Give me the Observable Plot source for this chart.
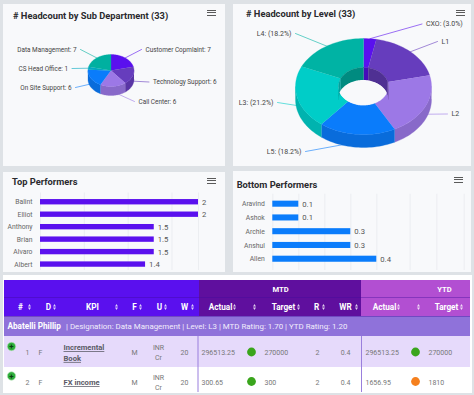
<!DOCTYPE html>
<html><head><meta charset="utf-8">
<script src="https://cdn.jsdelivr.net/npm/d3@7"></script>
<script src="https://cdn.jsdelivr.net/npm/@observablehq/plot@0.6"></script>
<style>
html,body{margin:0;padding:0;background:#dee2e6;width:474px;height:395px;overflow:hidden;font-family:Roboto,sans-serif}
.panel{position:absolute;background:#f8f9fb;overflow:hidden}
.panel svg{position:absolute;left:0;top:0;background:transparent}
.title{position:absolute;font:700 9.3px Roboto,sans-serif;color:#2a2a2e;white-space:nowrap;z-index:2}
.burger{position:absolute;width:9px;height:4px;border-top:1.5px solid #5a5a5a;border-bottom:1.5px solid #5a5a5a;z-index:2}
.burger:after{content:"";position:absolute;left:0;right:0;top:1.2px;border-top:1.5px solid #5a5a5a}
</style></head><body>
<script>
// ---------- data ----------
const subDeptNames = ["Customer Copmlaint","Technology Support","Call Center","On Site Support","CS Head Office","Data Management"];
const subDeptValues = [7,6,6,6,1,7];
const subDeptColors = ["#5a10ee","#663dbd","#9c78e6","#0a7cfb","#00a8c0","#00b0a0"];
const levelNames = ["CXO","L1","L2","L5","L3","L4"];
const levelValues = [1,6,7,6,7,6];
const levelLabels = ["CXO: (3.0%)","L1","L2","L5: (18.2%)","L3: (21.2%)","L4: (18.2%)"];
const levelColors = ["#5a10ee","#663dbd","#9c78e6","#0a7cfb","#00cdc8","#00b3a4"];
const topNames = ["Balint","Elliot","Anthony","Brian","Alvaro","Albert"];
const topValues = [2,2,1.44,1.44,1.44,1.33];
const topLabels = ["2","2","1.5","1.5","1.5","1.4"];
const bottomNames = ["Aravind","Ashok","Archie","Anshul","Allen"];
const bottomValues = [0.1,0.1,0.3,0.3,0.4];
const rowNums = ["1","2"];
const rowD = ["F","F"];
const rowKpi = ["Incremental\nBook","FX income"];
const rowF = ["M","M"];
const rowU = ["INR\nCr","INR\nCr"];
const rowW = ["20","20"];
const rowMtdActual = ["296513.25","300.65"];
const rowMtdStatus = ["#3aa51c","#3aa51c"];
const rowMtdTarget = ["270000","300"];
const rowR = ["2","2"];
const rowWR = ["0.4","0.4"];
const rowYtdActual = ["296513.25","1656.95"];
const rowYtdStatus = ["#3aa51c","#f5801e"];
const rowYtdTarget = ["270000","1810"];
const headerLabels = ["#","D","KPI","F","U","W","Actual","Target","R","WR","Actual","Target"];

// ---------- helpers ----------
const TAU = Math.PI*2;
function addTitle(p,text,left,top,bl,bt){
  const t=document.createElement("div");t.className="title";t.textContent=text;t.style.left=left+"px";t.style.top=top+"px";p.appendChild(t);
  const b=document.createElement("div");b.className="burger";b.style.left=bl+"px";b.style.top=bt+"px";p.appendChild(b);
}
function panel(x,y,w,h){
  const p=document.createElement("div");p.className="panel";
  p.style.cssText=`left:${x}px;top:${y}px;width:${w}px;height:${h}px`;
  document.body.appendChild(p);
  return p;
}
function pageFrame(x,y,w,h,marks){
  return Plot.plot({width:w,height:h,margin:0,x:{domain:[x,x+w],range:[0,w],axis:null},y:{domain:[y,y+h],range:[0,h],axis:null},color:{type:"identity"},style:{background:"transparent",overflow:"visible"},marks});
}
function arc(cx,cy,rx,ry,a0,a1){
  const n=Math.max(2,Math.ceil((a1-a0)/0.04));
  return d3.range(n+1).map(i=>{const a=a0+(a1-a0)*i/n;return [cx+rx*Math.sin(a),cy-ry*Math.cos(a)];});
}
function pieMarks(values,colors,g){
  const sum=d3.sum(values);let acc=0;
  const slices=values.map((v,i)=>{const a0=acc/sum*TAU;acc+=v;return {i,a0,a1:acc/sum*TAU,c:colors[i]};});
  const poly=[];
  const add=(key,c,pts)=>pts.forEach(p=>poly.push({key,c,x:p[0],y:p[1]}));
  slices.forEach(s=>{ // outer wall, front half only
    const a=Math.max(s.a0,Math.PI/2),b=Math.min(s.a1,Math.PI*1.5);
    if(b>a) add("w"+s.i,d3.color(s.c).darker(0.38).formatHex(),[...arc(g.cx,g.cy,g.rx,g.ry,a,b),...arc(g.cx,g.cy+g.depth,g.rx,g.ry,a,b).reverse()]);
  });
  slices.forEach(s=>{ // top faces
    const inner=g.irx?arc(g.cx,g.cy,g.irx,g.iry,s.a0,s.a1).reverse():[[g.cx,g.cy]];
    add("t"+s.i,s.c,[...arc(g.cx,g.cy,g.rx,g.ry,s.a0,s.a1),...inner]);
  });
  if(g.irx) slices.forEach(s=>{ // inner wall, back half only
    const segs=[[Math.max(s.a0,Math.PI*1.5),s.a1],[s.a0,Math.min(s.a1,Math.PI/2)]];
    segs.forEach(([a,b],k)=>{ if(b>a) add("i"+s.i+k,d3.color(s.c).darker(0.7).formatHex(),[...arc(g.cx,g.cy,g.irx,g.iry,a,b),...arc(g.cx,g.cy+g.depth,g.irx,g.iry,a,b).reverse()]);});
  });
  const marks=[Plot.line(poly,{x:"x",y:"y",z:"key",fill:"c",stroke:"c",strokeWidth:0.3})];
  if(g.irx){
    const xm=g.irx*Math.sqrt(1-Math.pow(g.depth/2/g.iry,2));
    const lens=d3.range(61).map(i=>{const dx=-xm+2*xm*i/60,s=g.iry*Math.sqrt(Math.max(0,1-dx*dx/g.irx/g.irx));return {x:g.cx+dx,y1:g.cy+g.depth-s,y2:g.cy+s};});
    marks.push(Plot.areaY(lens,{x:"x",y1:"y1",y2:"y2",fill:g.holeFill}));
  }
  return {marks,slices};
}
// label connector: starts on the rim at the slice's mid angle, runs to the label
function leaderMarks(slices,g,labels,colors,place,fs){
  const lines=[],texts=[];
  slices.forEach((s,i)=>{
    const m=(s.a0+s.a1)/2,front=Math.cos(m)<0?g.depth*0.6:0;
    const [lx,ly,anchor]=place[i];
    const x0=g.cx+g.rx*Math.sin(m),y0=g.cy-g.ry*Math.cos(m)+front;
    const gap=anchor==="start"?-4:4;
    [[x0,y0],[lx+gap,ly]].forEach(p=>lines.push({k:i,x:p[0],y:p[1],c:colors[i]}));
    texts.push({x:lx,y:ly,t:labels[i],a:anchor});
  });
  return [
    Plot.line(lines,{x:"x",y:"y",z:"k",stroke:"c",strokeWidth:0.8,strokeOpacity:0.75}),
    ...["start","end"].map(a=>Plot.text(texts.filter(d=>d.a===a),{x:"x",y:"y",text:"t",textAnchor:a,fontSize:fs,fill:"#444",fontFamily:"Roboto"}))
  ];
}

// ---------- panel 1 : sub department pie ----------
{
  const [x,y,w,h]=[3,4,222,162];
  const p=panel(x,y,w,h);
  addTitle(p,"# Headcount by Sub Department (33)",10,6,204,6);
  const g={cx:110.5,cy:70,rx:23,ry:16,depth:9};
  const {marks,slices}=pieMarks(subDeptValues,subDeptColors,g);
  const labels=subDeptNames.map((n,i)=>n+": "+subDeptValues[i]);
  const place=[[145,49,"start"],[152.5,81.5,"start"],[138,101,"start"],[71,87,"end"],[67.5,68,"end"],[76,49,"end"]];
  p.appendChild(pageFrame(x,y,w,h,[...leaderMarks(slices,g,labels,subDeptColors,place,6.4),...marks]));
}
// ---------- panel 2 : level donut ----------
{
  const [x,y,w,h]=[233,4,238,162];
  const p=panel(x,y,w,h);
  addTitle(p,"# Headcount by Level (33)",13,3.5,223,5.5);
  const g={cx:363,cy:86,rx:68,ry:48,depth:13,irx:25,iry:19,holeFill:"#f8f9fb"};
  const {marks,slices}=pieMarks(levelValues,levelColors,g);
  const place=[[425.5,23.5,"start"],[441,41,"start"],[451,113.5,"start"],[301,151,"end"],[273,102,"end"],[291,33,"end"]];
  p.appendChild(pageFrame(x,y,w,h,[...leaderMarks(slices,g,levelLabels,levelColors,place,7),...marks]));
}
// ---------- bars ----------
function barChart(x,y,w,h,names,values,labels,color,x0,x1,xmax,yTop,yBot,pad,ticks){
  const p=panel(x,y,w,h);
  const plot=Plot.plot({width:w,height:h,margin:0,
    x:{domain:[0,xmax],range:[x0-x,x1-x],axis:null},
    y:{domain:names,range:[yTop-y,yBot-y],paddingInner:pad,paddingOuter:pad/2,round:false,axis:null},
    style:{background:"transparent"},
    marks:[
      Plot.ruleX(ticks,{x:d=>d,insetTop:yTop-y-3,insetBottom:2,stroke:"#e9ebef",strokeWidth:0.8}),
      Plot.barX(names.map((n,i)=>({n,v:values[i]})),{x:"v",y:"n",fill:color}),
      Plot.text(names.map((n,i)=>({n,v:values[i],l:labels[i]})),{x:"v",y:"n",text:"l",dx:3.5,textAnchor:"start",fontSize:7.7,fill:"#555",fontFamily:"Roboto"}),
      Plot.text(names,{x:()=>0,y:d=>d,text:d=>d,dx:-8,textAnchor:"end",fontSize:6.8,fill:"#666",fontFamily:"Roboto"})
    ]});
  p.appendChild(plot);
  return p;
}
{
  const p=barChart(3,172,222,100,topNames,topValues,topLabels,"#5a10ee",40,198,2,195.5,270.3,0.57,[0,0.555,1.11,1.665,2]);
  addTitle(p,"Top Performers",9,4,204,5.5);
}
{
  const p=barChart(233,171,238,101,bottomNames,bottomValues,bottomValues.map(String),"#0a7cfb",272.3,376.3,0.4,196.8,265.6,0.56,[0,0.1,0.2,0.3,0.4,0.528,0.631,0.736]);
  addTitle(p,"Bottom Performers",3.7,7.5,221,6);
}
// ---------- table ----------
{
  const [x,y,w,h]=[3,275,469,118];
  const p=panel(x,y,w,h);p.style.background="#fff";
  const [X0,X1,X2,X3]=[4,199,361,470];
  const [Y0,Y1,Y2,Y3,Y4,Y5]=[280,297,316,336,367,392];
  const bands=[
    [X0,X1,Y0,Y2,"#5a10ee"],[X1,X2,Y0,Y2,"#5f0f9e"],[X2,X3,Y0,Y2,"#b24fd2"],
    [X0,X3,Y2,Y3,"#8f72da"],[X0,X3,Y3,Y4,"#e6dafb"],[X0,X3,Y4,Y5,"#ffffff"]
  ].map(([x1,x2,y1,y2,c])=>({x1,x2,y1,y2,c}));
  const headerX=[20,48,92,134,159,184,220,283,316,345,384,446];
  const sortX=[29,54,116,140,165,192,234,254,298,323,356,398,418,461];
  const yh=(Y1+Y2)/2, r1=351.5, r2=381;
  const ys=[r1,r2];
  const col=(arr,cx,anchor="middle",extra={})=>Plot.text(arr.map((t,i)=>({t,y:ys[i]})),{x:()=>cx,y:"y",text:"t",textAnchor:anchor,fontSize:7,fill:"#777",fontFamily:"Roboto",lineHeight:1.43,...extra});
  const plot=pageFrame(x,y,w,h,[
    Plot.rect(bands,{x1:"x1",x2:"x2",y1:"y1",y2:"y2",fill:"c"}),
    Plot.ruleY([Y1],{x1:X0,x2:X3,stroke:"#3f0a9c",strokeOpacity:0.55,strokeWidth:0.7}),
    Plot.ruleY([Y2],{x1:X0,x2:X3,stroke:"#3f0a9c",strokeOpacity:0.55,strokeWidth:0.7}),
    Plot.ruleX([197.5,361],{y1:Y3,y2:Y5,stroke:"#9a7fdd",strokeWidth:1}),
    Plot.text(["MTD"],{x:()=>280,y:()=>(Y0+Y1)/2+0.5,text:d=>d,fill:"#fff",fontWeight:700,fontSize:7.6,fontFamily:"Roboto"}),
    Plot.text(["YTD"],{x:()=>444,y:()=>(Y0+Y1)/2+0.5,text:d=>d,fill:"#fff",fontWeight:700,fontSize:7.6,fontFamily:"Roboto"}),
    Plot.text(headerLabels.map((t,i)=>({t,x:headerX[i]})),{x:"x",y:()=>yh,text:"t",fill:"#fff",fontWeight:700,fontSize:8.2,fontFamily:"Roboto"}),
    Plot.dot(sortX,{x:d=>d,y:()=>yh-1.4,symbol:"triangle",r:1.1,fill:"#fff",fillOpacity:.8,stroke:"none"}),
    Plot.dot(sortX,{x:d=>d,y:()=>yh+1.4,symbol:"triangle",r:1.1,rotate:180,fill:"#fff",fillOpacity:.8,stroke:"none"}),
    Plot.text(["Abatelli Phillip"],{x:()=>7,y:()=>(Y2+Y3)/2,text:d=>d,textAnchor:"start",fill:"#fff",fontWeight:700,fontSize:8.2,fontFamily:"Roboto"}),
    Plot.text(["| Designation: Data Management | Level: L3 | MTD Rating: 1.70 | YTD Rating: 1.20"],{x:()=>65.5,y:()=>(Y2+Y3)/2,text:d=>d,textAnchor:"start",fill:"#f2edfc",fontSize:7.9,fontFamily:"Roboto"}),
    Plot.dot(ys,{x:()=>11,y:d=>d-5.5,r:4.2,fill:"#2fae3c",stroke:"#bde5c0",strokeWidth:0.6}),
    Plot.text(ys,{x:()=>11,y:d=>d-5.5,text:()=>"+",fill:"#0b3d12",fontWeight:700,fontSize:8,fontFamily:"Roboto"}),
    col(rowNums,27),col(rowD,40),
    col(rowKpi,63,"start",{fontWeight:700,fontSize:7.6,fill:"#5a5a66"}),
    col(rowF,134),col(rowU,158),col(rowW,184),
    col(rowMtdActual,201,"start"),
    Plot.dot(ys,{x:()=>251,y:d=>d,r:4.4,fill:(d,i)=>rowMtdStatus[i],stroke:"none"}),
    col(rowMtdTarget,264,"start"),col(rowR,317),col(rowWR,345),
    col(rowYtdActual,365,"start"),
    Plot.dot(ys,{x:()=>415,y:d=>d,r:4.4,fill:(d,i)=>rowYtdStatus[i],stroke:"none"}),
    col(rowYtdTarget,428,"start")
  ]);
  plot.querySelectorAll('g[fill="#5a5a66"] text').forEach(t=>t.setAttribute("text-decoration","underline"));
  p.appendChild(plot);
}
</script>
</body></html>
